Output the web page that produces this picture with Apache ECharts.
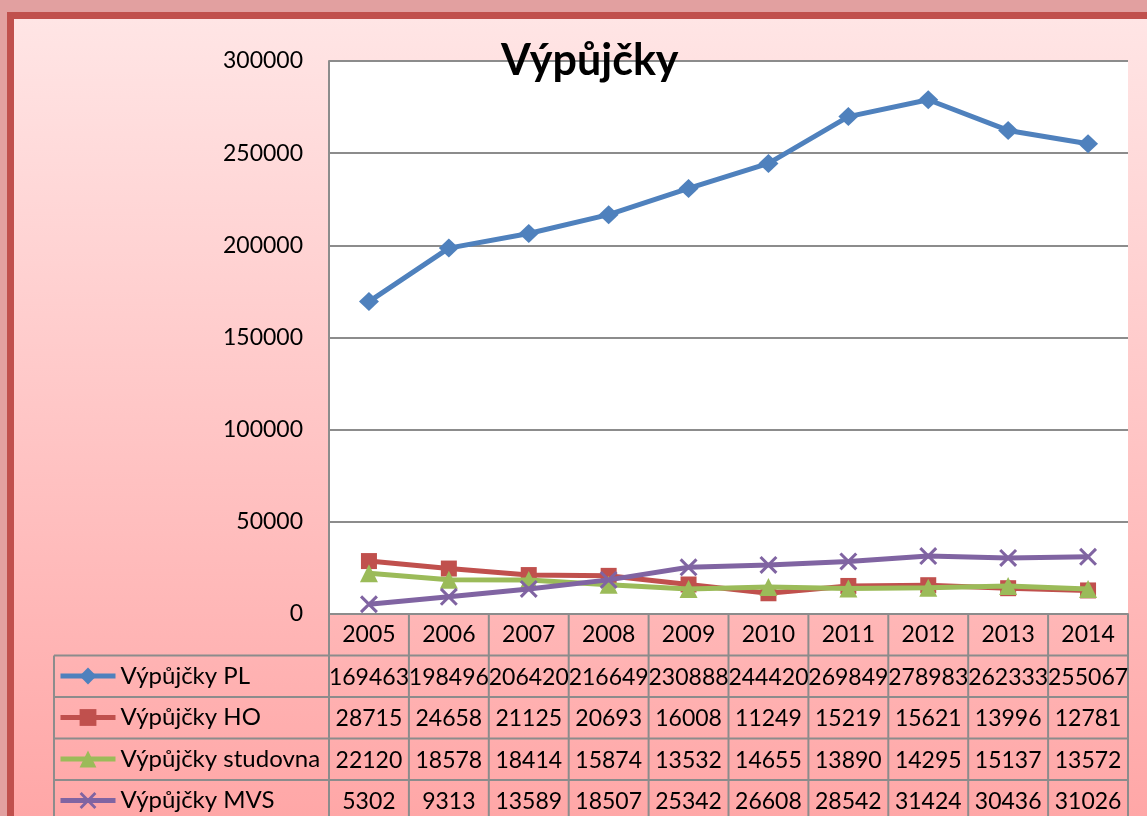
<!DOCTYPE html>
<html><head><meta charset="utf-8">
<script src="https://cdn.jsdelivr.net/npm/echarts@6/dist/echarts.min.js"></script>
<style>
html,body{margin:0;padding:0;overflow:hidden;background:#e2a0a0;width:1147px;height:816px;}
#frame{position:absolute;left:7px;top:12px;width:1200px;height:900px;border:7px solid #C0504D;background:linear-gradient(180deg,#FFE5E5 0%,#FF9F9F 100%);}
#c{position:absolute;left:0;top:0;width:1147px;height:816px;}
</style>
</head><body><div id="frame"></div><div id="c"></div>
<script>
const titleText = 'Výpůjčky';
const years = ['2005','2006','2007','2008','2009','2010','2011','2012','2013','2014'];
const seriesNames = ['Výpůjčky PL','Výpůjčky HO','Výpůjčky studovna','Výpůjčky MVS'];
const plValues = [169463,198496,206420,216649,230888,244420,269849,278983,262333,255067];
const hoValues = [28715,24658,21125,20693,16008,11249,15219,15621,13996,12781];
const studovnaValues = [22120,18578,18414,15874,13532,14655,13890,14295,15137,13572];
const mvsValues = [5302,9313,13589,18507,25342,26608,28542,31424,30436,31026];
const yMin = 0, yMax = 300000, yStep = 50000;

const allValues = [plValues, hoValues, studovnaValues, mvsValues];
const colors = ['#4F81BD','#C0504D','#9BBB59','#8064A2'];
const crossPath = 'path://M0,1.2L1.2,0L10,8.8L8.8,10Z M8.8,0L10,1.2L1.2,10L0,8.8Z';
const symbols = ['diamond','rect','triangle',crossPath];
const symbolSizes = [[20,19],16,18,18];
const FONT = 'Lato';

const chart = echarts.init(document.getElementById('c'), null, {renderer:'canvas'});
const option = {
  animation: false,
  backgroundColor: 'transparent',
  title: {
    text: titleText, left: 496, top: 35,
    textStyle: {fontFamily: FONT, fontSize: 43, fontWeight: 'bold', color: '#000'}
  },
  legend: {
    orient: 'vertical', left: 58, top: 664, padding: 0, height: 400,
    itemWidth: 55, itemHeight: 21, itemGap: 17.5,
    textStyle: {fontFamily: FONT, fontSize: 24, color: '#000'},
    lineStyle: {width: 5},
    data: seriesNames
  },
  grid: {left: 329, top: 61, right: 19, bottom: 202, show: true, backgroundColor: '#fff', borderWidth: 0, containLabel: false},
  xAxis: {
    type: 'category', data: years, boundaryGap: true,
    axisLine: {lineStyle: {color: '#8c8c8c', width: 2}},
    axisTick: {show: false},
    axisLabel: {fontFamily: FONT, fontSize: 23, color: '#000', margin: 9, interval: 0}
  },
  yAxis: {
    type: 'value', min: yMin, max: yMax, interval: yStep,
    axisLine: {show: true, lineStyle: {color: '#8c8c8c', width: 2}},
    axisTick: {show: false},
    axisLabel: {fontFamily: FONT, fontSize: 23, color: '#000', margin: 26, formatter: v => String(v)},
    splitLine: {lineStyle: {color: '#8c8c8c', width: 2}}
  },
  series: allValues.map((vals, i) => ({
    name: seriesNames[i], type: 'line', data: vals,
    symbol: symbols[i], symbolSize: symbolSizes[i], showAllSymbol: true,
    lineStyle: {color: colors[i], width: 5},
    itemStyle: {color: colors[i]},
    z: 2 + i
  }))
};
chart.setOption(option);

// data table built from the axis scales
const cx = years.map((_, i) => chart.convertToPixel({xAxisIndex: 0}, i));
const bw = cx[1] - cx[0];
const yBase = chart.convertToPixel({yAxisIndex: 0}, 0);
const rowH = 41.5;
const leftX = 54;
const colLeft = cx[0] - bw / 2;
const rightX = cx[cx.length - 1] + bw / 2;
const lineStyle = {stroke: '#8c8c8c', lineWidth: 2};
const els = [];
for (let k = 1; k <= 5; k++) {
  const y = yBase + rowH * k;
  els.push({type: 'line', shape: {x1: leftX, y1: y, x2: rightX, y2: y}, style: lineStyle, z: 10});
}
for (let j = 0; j <= years.length; j++) {
  const x = colLeft + j * bw;
  els.push({type: 'line', shape: {x1: x, y1: yBase, x2: x, y2: yBase + rowH * 5}, style: lineStyle, z: 10});
}
els.push({type: 'line', shape: {x1: leftX, y1: yBase + rowH, x2: leftX, y2: yBase + rowH * 5}, style: lineStyle, z: 10});
allValues.forEach((vals, r) => {
  vals.forEach((v, i) => {
    els.push({type: 'text', x: cx[i], y: yBase + rowH * (r + 1) + rowH / 2 + 1,
      style: {text: String(v), fontFamily: FONT, fontSize: 23, fill: '#000', align: 'center', verticalAlign: 'middle'}, z: 11});
  });
});
chart.setOption({graphic: {elements: els}});
</script>
</body></html>
